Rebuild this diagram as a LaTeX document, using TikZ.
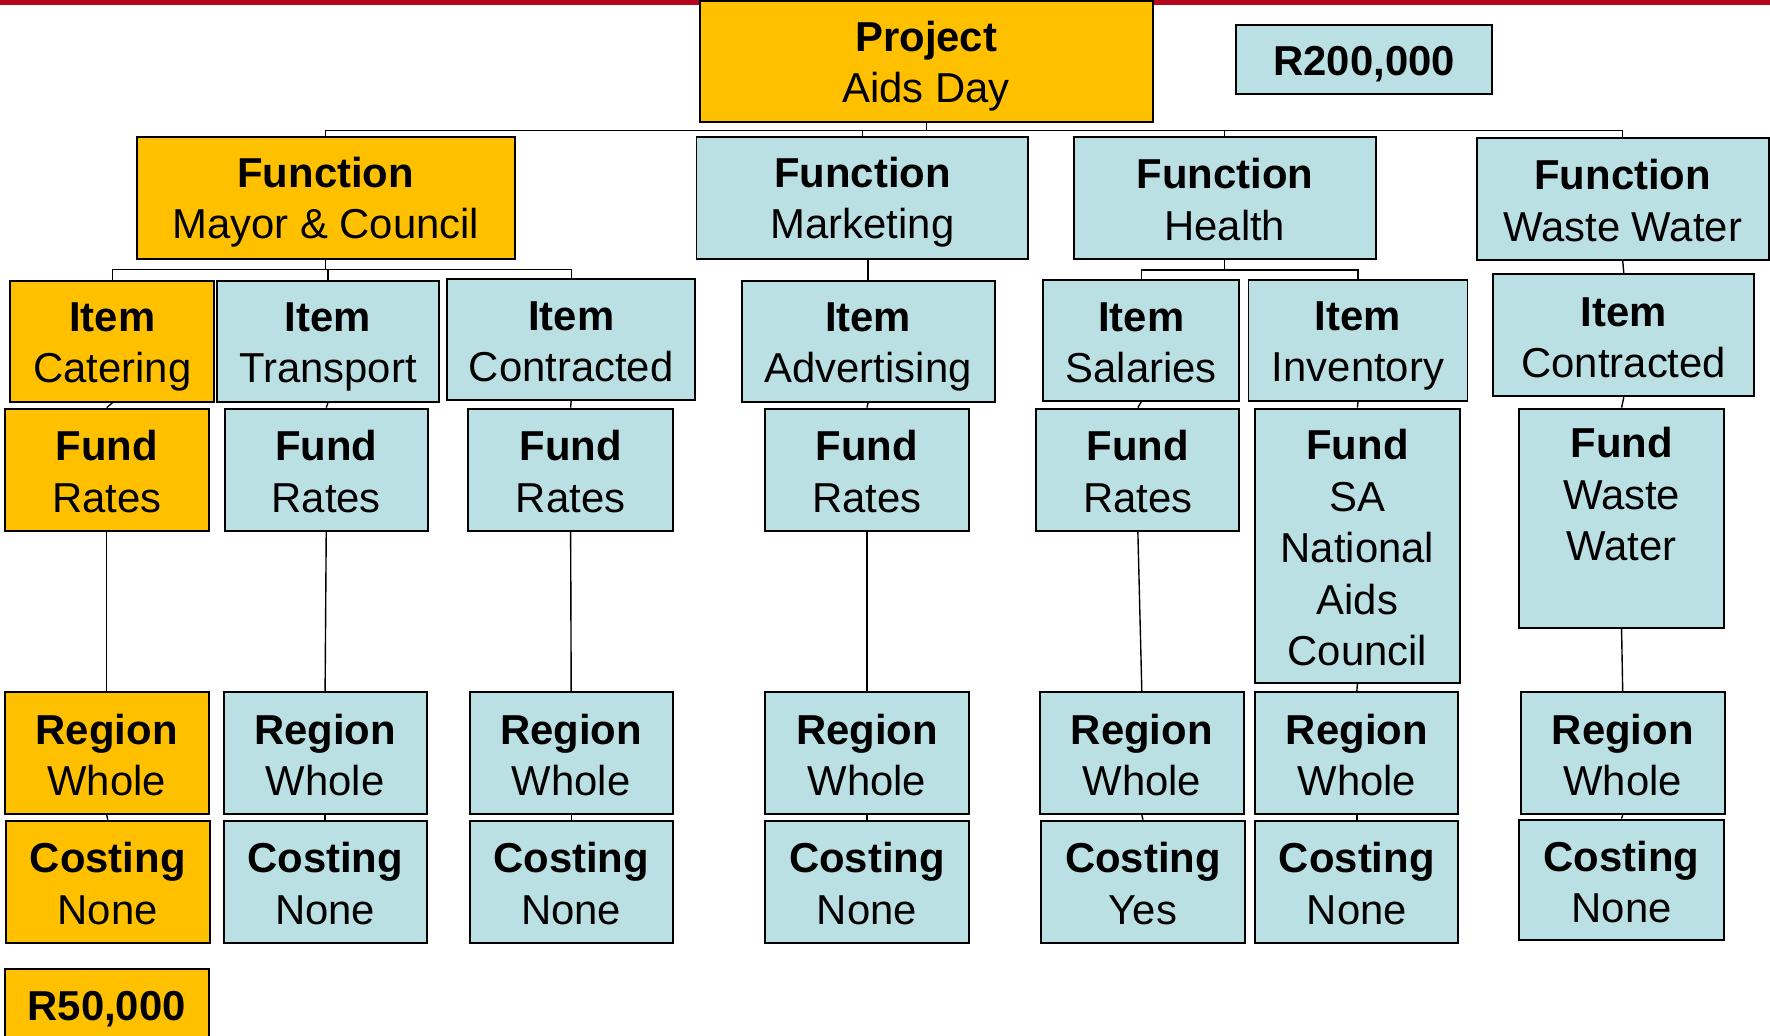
\documentclass[tikz,border=0pt]{standalone}
\usepackage{fontspec}
\setmainfont{Liberation Sans}
\usepackage{tikz}
\definecolor{boxgold}{HTML}{FFC000}
\definecolor{boxblue}{HTML}{BBE0E3}
\definecolor{barred}{HTML}{B5081F}
\newcommand\bxstrut{\rule[-3pt]{0pt}{23pt}}
\newcommand\twoline[2]{\textbf{#1}\bxstrut\\#2\bxstrut}
\tikzset{
  wbs/.style={draw=black, line width=1pt, inner sep=0pt, align=center,
    font=\fontsize{21.1}{25.9}\selectfont},
  wh/.style 2 args={minimum width=#1*0.02cm, minimum height=#2*0.02cm},
  goldbox/.style={wbs, fill=boxgold},
  bluebox/.style={wbs, fill=boxblue},
  link/.style={line width=0.7pt}
}

\begin{document}
\begin{tikzpicture}[x=0.02cm, y=-0.02cm]
                \useasboundingbox (0,0) rectangle (1568,917);
                % 顶部红线
                \fill[barred] (0,0) rectangle (1568,4);

                % 项目与预算
                \node[goldbox, wh={401}{107}] (pr) at (820.5,54.5) {\twoline{Project}{Aids Day}};
                \node[bluebox, wh={227}{61}] (tot) at (1208.5,52.5) {\textbf{R200,000}\bxstrut};

                % 职能
                \node[goldbox, wh={335}{108}] (fmc) at (288.5,175) {\twoline{Function}{Mayor \& Council}};
                \node[bluebox, wh={294}{108}] (fmk) at (764,175) {\twoline{Function}{Marketing}};
                \node[bluebox, wh={268}{108}] (fhl) at (1085,175) {\twoline{Function}{Health}};
                \node[bluebox, wh={259}{108}] (fww) at (1437.5,176) {\twoline{Function}{Waste Water}};

                % 项目条目
                \node[goldbox, wh={181}{107}] (ica) at (99.5,302.5) {\twoline{Item}{Catering}};
                \node[bluebox, wh={197}{107}] (itr) at (290.5,302.5) {\twoline{Item}{Transport}};
                \node[bluebox, wh={220}{107}] (ico) at (506,300.5) {\twoline{Item}{Contracted}};
                \node[bluebox, wh={224}{107}] (iad) at (769,302.5) {\twoline{Item}{Advertising}};
                \node[bluebox, wh={174}{107}] (isa) at (1011,301.5) {\twoline{Item}{Salaries}};
                \node[bluebox, wh={194}{107}] (iin) at (1203,301.5) {\twoline{Item}{Inventory}};
                \node[bluebox, wh={231}{108}] (iww) at (1438.5,297) {\twoline{Item}{Contracted}};

                % 资金
                \node[goldbox, wh={181}{108}] (nca) at (94.5,416) {\twoline{Fund}{Rates}};
                \node[bluebox, wh={180}{108}] (ntr) at (289,416) {\twoline{Fund}{Rates}};
                \node[bluebox, wh={181}{108}] (nco) at (505.5,416) {\twoline{Fund}{Rates}};
                \node[bluebox, wh={180}{108}] (nad) at (768,416) {\twoline{Fund}{Rates}};
                \node[bluebox, wh={180}{108}] (nsa) at (1008,416) {\twoline{Fund}{Rates}};
                \node[bluebox, wh={181}{243}] (nin) at (1202.5,483.5)
                    {\textbf{Fund}\bxstrut\\SA\bxstrut\\National\bxstrut\\Aids\bxstrut\\Council\bxstrut};
                \node[bluebox, wh={181}{194}] (nww) at (1436.5,459)
                    {\textbf{Fund}\bxstrut\\Waste\bxstrut\\Water\bxstrut\\\bxstrut};

                % 区域
                \node[goldbox, wh={181}{108}] (rca) at (94.5,667) {\twoline{Region}{Whole}};
                \node[bluebox, wh={180}{108}] (rtr) at (288,667) {\twoline{Region}{Whole}};
                \node[bluebox, wh={180}{108}] (rco) at (506,667) {\twoline{Region}{Whole}};
                \node[bluebox, wh={180}{108}] (rad) at (768,667) {\twoline{Region}{Whole}};
                \node[bluebox, wh={181}{108}] (rsa) at (1011.5,667) {\twoline{Region}{Whole}};
                \node[bluebox, wh={180}{108}] (rin) at (1202,667) {\twoline{Region}{Whole}};
                \node[bluebox, wh={181}{108}] (rww) at (1437.5,667) {\twoline{Region}{Whole}};

                % 成本核算
                \node[goldbox, wh={181}{108}] (cca) at (95.5,781) {\twoline{Costing}{None}};
                \node[bluebox, wh={180}{108}] (ctr) at (288,781) {\twoline{Costing}{None}};
                \node[bluebox, wh={180}{108}] (cco) at (506,781) {\twoline{Costing}{None}};
                \node[bluebox, wh={180}{108}] (cad) at (768,781) {\twoline{Costing}{None}};
                \node[bluebox, wh={181}{108}] (csa) at (1012.5,781) {\twoline{Costing}{Yes}};
                \node[bluebox, wh={180}{108}] (cin) at (1202,781) {\twoline{Costing}{None}};
                \node[bluebox, wh={181}{107}] (cww) at (1436.5,779.5) {\twoline{Costing}{None}};

                % 分项预算
                \node[goldbox, wh={181}{62}] (sub) at (94.5,889) {\textbf{R50,000}\bxstrut};

                % 连线
                \foreach \f in {fmc,fmk,fhl,fww}
                    \draw[link] (pr.south) -- ++(0,6.5) -| (\f.north);
                \foreach \i in {ica,itr,ico}
                    \draw[link] (fmc.south) -- ++(0,9) -| (\i.north);
                \foreach \i in {isa,iin}
                    \draw[link] (fhl.south) -- ++(0,9.4) -| (\i.north);
                \draw[link] (iad.north) -- (iad.north |- fmk.south);
                \draw[link] (fww.south) -- (iww.north);
                \foreach \a/\b in {ica/nca,itr/ntr,ico/nco,iad/nad,isa/nsa,iin/nin,iww/nww,
                        nca/rca,ntr/rtr,nco/rco,nad/rad,nsa/rsa,nin/rin,nww/rww,
                        rca/cca,rtr/ctr,rco/cco,rad/cad,rsa/csa,rin/cin,rww/cww}
                    \draw[link] (\a.south) -- (\b.north);
            \end{tikzpicture}
\end{document}
